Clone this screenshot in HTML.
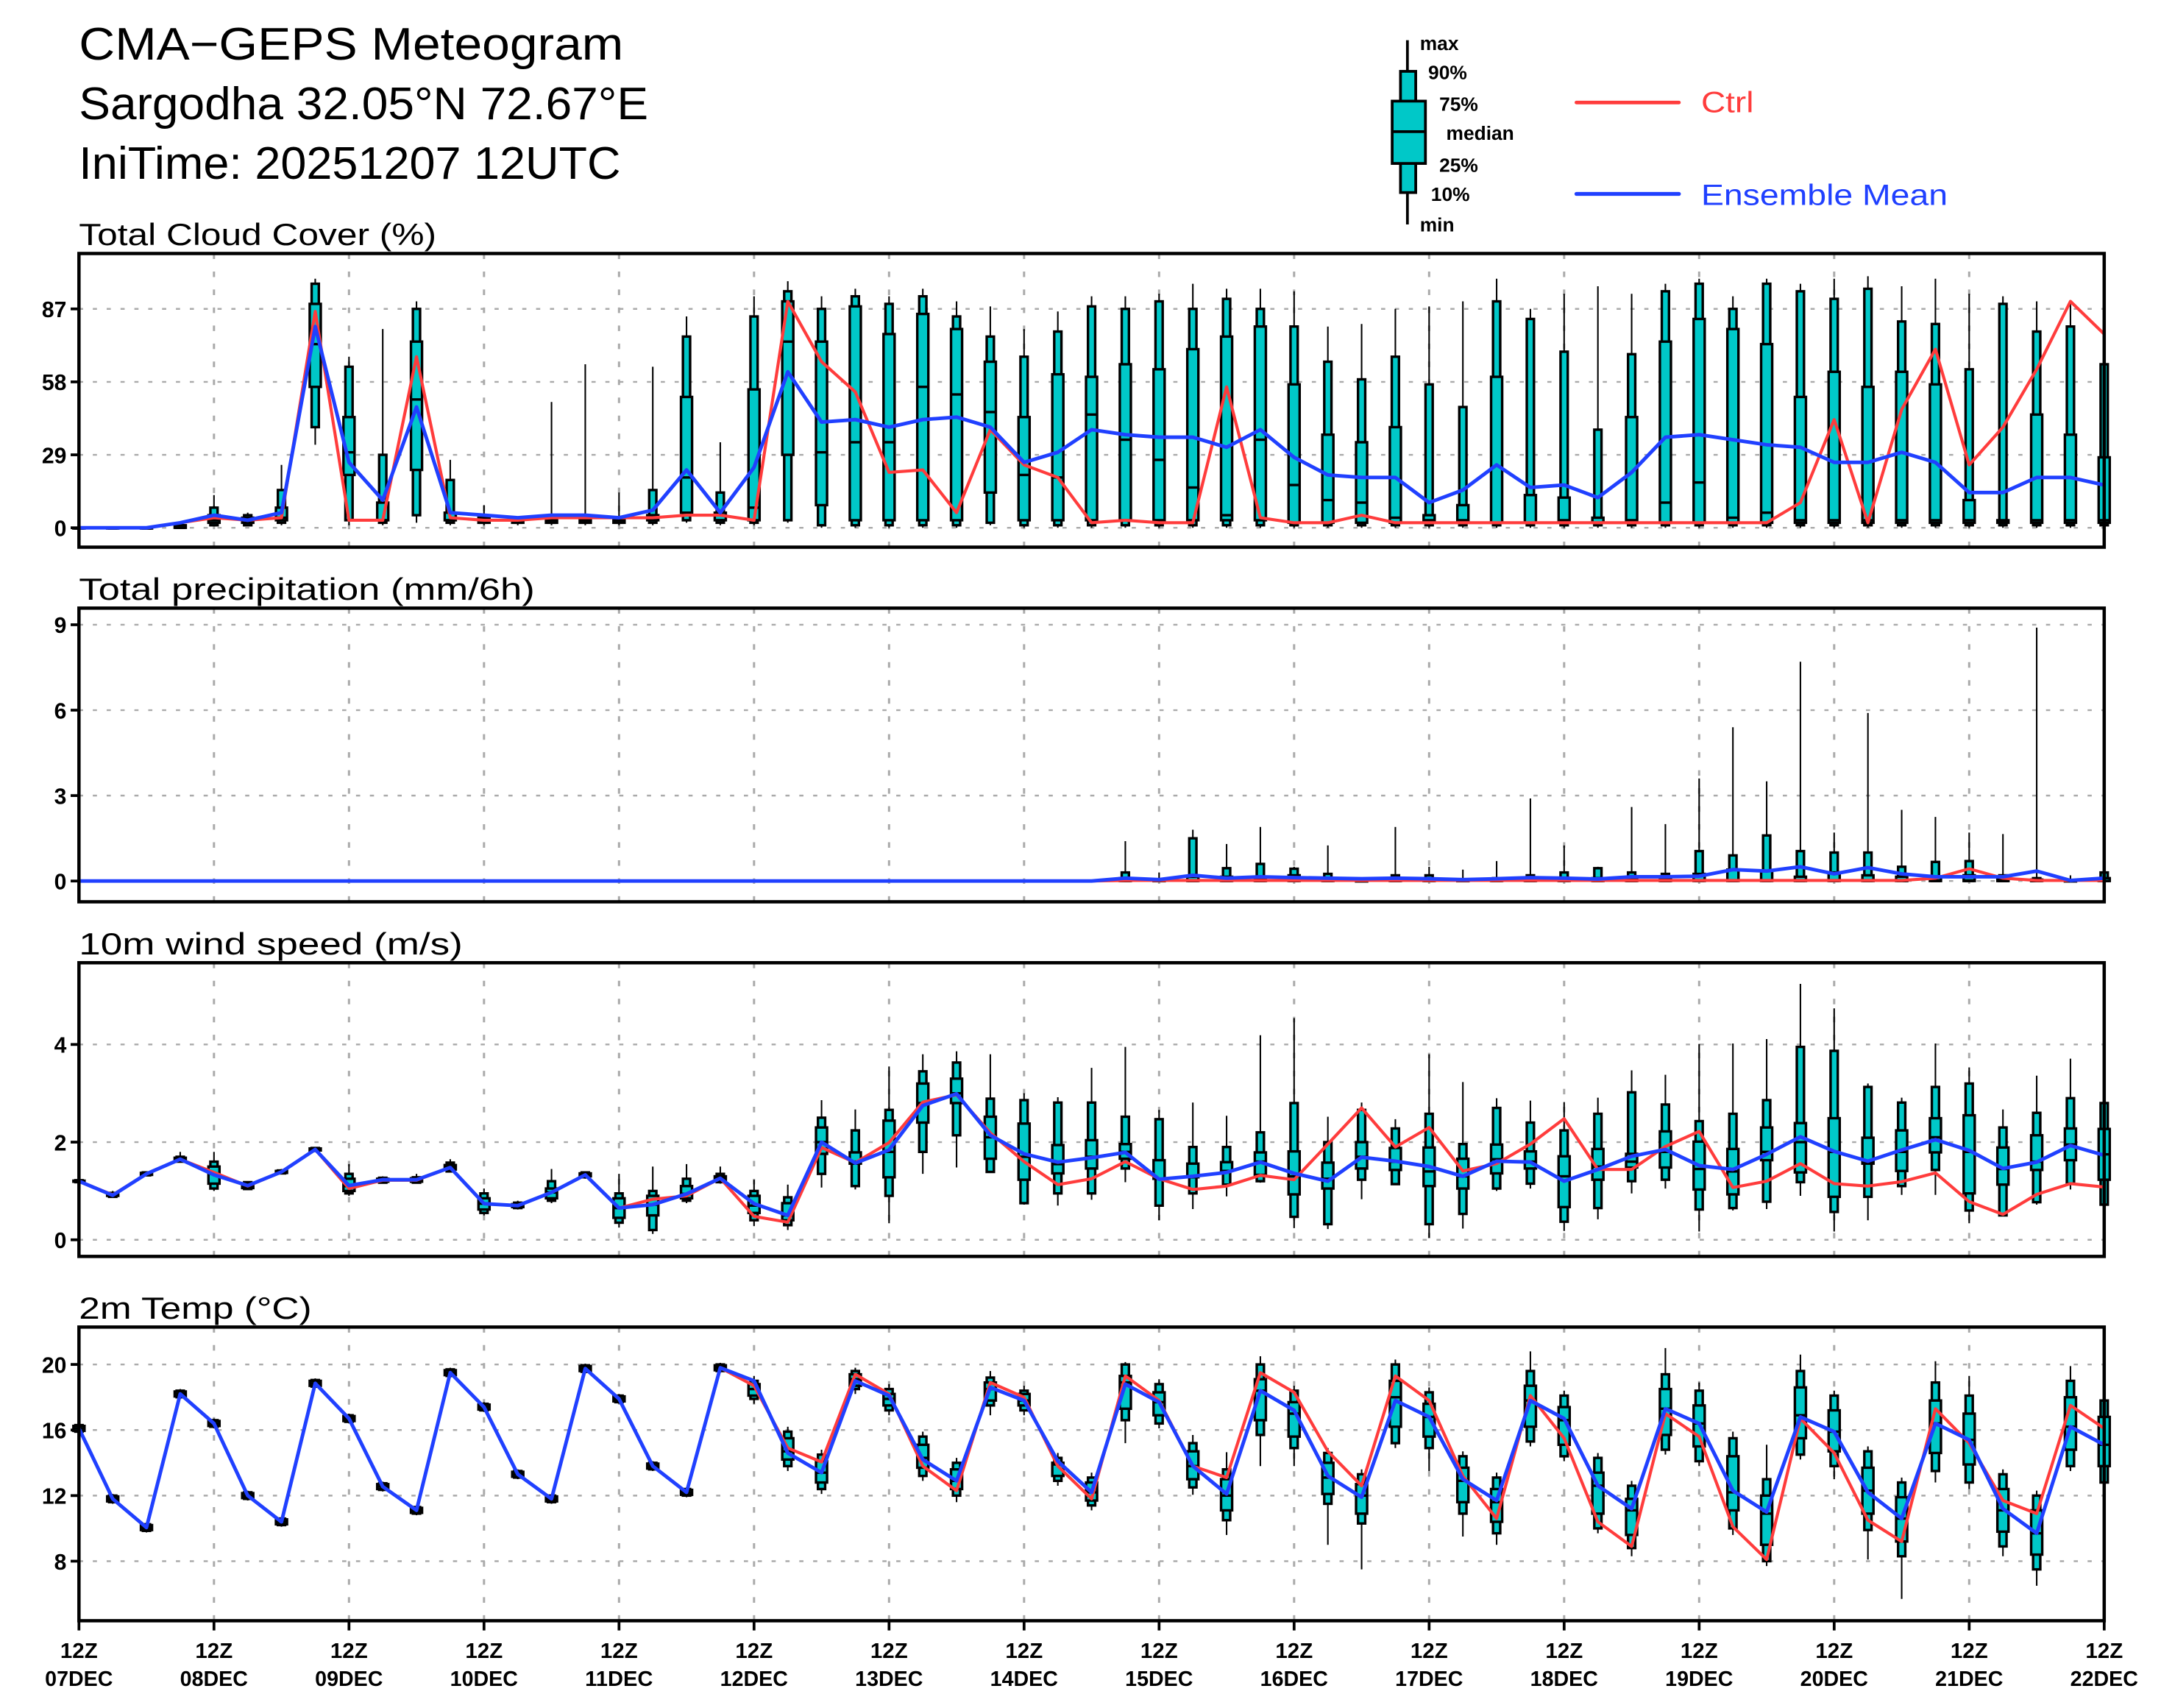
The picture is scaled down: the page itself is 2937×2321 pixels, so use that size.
<!DOCTYPE html>
<html><head><meta charset="utf-8"><title>CMA-GEPS Meteogram</title>
<style>html,body{margin:0;padding:0;background:#fff;}svg{display:block;}</style></head>
<body>
<svg id="chart" xmlns="http://www.w3.org/2000/svg" width="2937" height="2321" viewBox="0 0 1560 1233" preserveAspectRatio="none" font-family="'Liberation Sans', 'DejaVu Sans', sans-serif">
<rect x="0" y="0" width="1560" height="1233" fill="#fff"/>
<text x="57" y="43" font-size="33" textLength="393" lengthAdjust="spacingAndGlyphs">CMA−GEPS Meteogram</text>
<text x="57" y="86" font-size="33" textLength="411" lengthAdjust="spacingAndGlyphs">Sargodha 32.05°N 72.67°E</text>
<text x="57" y="129" font-size="33" textLength="391" lengthAdjust="spacingAndGlyphs">IniTime: 20251207 12UTC</text>
<g id="legend">
  <line x1="1016" y1="29" x2="1016" y2="162" stroke="#000" stroke-width="2"/>
  <rect x="1011" y="51.5" width="11" height="87.5" fill="#00c8c8" stroke="#000" stroke-width="2"/>
  <rect x="1005" y="73" width="24" height="45" fill="#00c8c8" stroke="#000" stroke-width="2"/>
  <line x1="1005" y1="95" x2="1029" y2="95" stroke="#000" stroke-width="2"/>
  <g font-size="14" font-weight="bold">
    <text x="1025" y="36">max</text>
    <text x="1031" y="57">90%</text>
    <text x="1039" y="80">75%</text>
    <text x="1044" y="101">median</text>
    <text x="1039" y="124">25%</text>
    <text x="1033" y="145">10%</text>
    <text x="1025" y="167">min</text>
  </g>
  <line x1="1138" y1="74" x2="1212" y2="74" stroke="#ff3c3c" stroke-width="2.6" stroke-linecap="round"/>
  <text x="1228" y="81" font-size="21" fill="#ff3c3c" textLength="38" lengthAdjust="spacingAndGlyphs">Ctrl</text>
  <line x1="1138" y1="140" x2="1212" y2="140" stroke="#2040ff" stroke-width="2.8" stroke-linecap="round"/>
  <text x="1228" y="148" font-size="21" fill="#2040ff" textLength="178" lengthAdjust="spacingAndGlyphs">Ensemble Mean</text>
</g>
</svg>
<script>
// ===== time axis =====
const dayLabels = ["07DEC","08DEC","09DEC","10DEC","11DEC","12DEC","13DEC","14DEC","15DEC","16DEC","17DEC","18DEC","19DEC","20DEC","21DEC","22DEC"];
const hourLabel = "12Z";

// ===== Total cloud cover (%) =====
const cloudTicks = [0,29,58,87];
const cloudCtrl = [0,0,0,2,4,3,4,86,3,3, 68,4,3,3,4,4,4,4,5,5, 3,90,66,54,22,23,6,39,25,20, 2,3,2,2,56,4,2,2,5,2, 2,2,2,2,2,2,2,2,2,2, 2,10,43,2,47,71,25,40,63,90,77];
const cloudMean = [0,0,0,2,5,3,6,80,26,11, 48,6,5,4,5,5,4,7,23,6, 24,62,42,43,40,43,44,40,26,30, 39,37,36,36,32,39,28,21,20,20, 10,15,25,16,17,12,22,36,37,35, 33,32,26,26,30,26,14,14,20,20,17];
const cloudMax = [0,0,0,2,13,6,25,99,68,79, 90,27,9,4,50,65,14,64,84,34, 92,98,92,95,92,95,90,88,79,86, 92,92,93,97,95,95,94,80,81,87, 88,90,99,87,93,96,93,97,99,92, 99,97,99,100,96,99,93,92,90,90,80];
const cloudP90 = [0,0,0,1,8,5,15,97,64,29, 87,19,5,4,4,4,4,15,76,14, 84,94,87,92,89,92,84,76,68,78, 88,87,90,87,91,87,80,66,59,68, 57,48,90,83,70,39,69,94,97,87, 97,94,91,95,82,81,63,89,78,80,65];
const cloudP75 = [0,0,0,1,5,4,8,89,44,10, 74,6,4,3,3,3,3,5,52,6, 55,90,74,88,77,85,79,66,44,61, 60,65,63,71,76,80,57,37,34,40, 5,9,60,13,12,4,44,74,83,79, 73,52,62,56,62,57,11,3,45,37,28];
const cloudMed = [0,0,0,0,3,3,4,73,30,3, 51,3,3,3,3,3,3,3,20,3, 8,74,30,34,34,56,53,46,21,20, 45,35,27,16,5,35,17,11,10,4, 3,3,2,2,3,2,3,10,18,4, 6,3,3,3,3,3,3,2,3,3,3];
const cloudP25 = [0,0,0,0,2,2,3,56,21,3, 23,3,2,2,2,2,2,3,6,3, 3,29,9,3,3,3,3,14,3,3, 3,3,3,3,3,3,2,2,2,2, 2,2,2,2,2,2,2,2,2,2, 2,2,2,2,2,2,2,2,2,2,2];
const cloudP10 = [0,0,0,0,1,1,2,40,3,2, 5,2,2,2,2,2,2,2,3,2, 2,3,1,1,1,1,1,2,1,1, 1,1,1,1,1,1,1,1,1,1, 1,1,1,1,1,1,1,1,1,1, 1,1,1,1,1,1,1,1,1,1,1];
const cloudMin = [0,0,0,0,1,1,1,33,1,1, 2,1,1,1,1,1,1,1,2,1, 1,2,0,0,0,0,0,1,0,0, 0,0,0,0,0,0,0,0,0,0, 0,0,0,0,0,0,0,0,0,0, 0,0,0,0,0,0,0,0,0,0,0];

// ===== Total precipitation (mm/6h) =====
const precipTicks = [0,3,6,9];
const precipCtrl = [0,0,0,0,0,0,0,0,0,0, 0,0,0,0,0,0,0,0,0,0, 0,0,0,0,0,0,0,0,0,0, 0, 0.02,0.02,0.02,0.02,0.02,0.02,0.02,0.02,0.02, 0.02,0.02,0.02,0.02,0.02,0.02,0.02,0.02,0.02,0.02, 0.02,0.02,0.02,0.02,0.02,0.1,0.43,0.1,0.02,0.02,0.02];
const precipMean = [0,0,0,0,0,0,0,0,0,0, 0,0,0,0,0,0,0,0,0,0, 0,0,0,0,0,0,0,0,0,0, 0, 0.1,0.05,0.2,0.1,0.15,0.12,0.1,0.08,0.1, 0.08,0.05,0.08,0.12,0.1,0.07,0.15,0.15,0.17,0.4, 0.35,0.5,0.25,0.47,0.25,0.15,0.15,0.15,0.35,0.02,0.1];
const precipMax = [0,0,0,0,0,0,0,0,0,0, 0,0,0,0,0,0,0,0,0,0, 0,0,0,0,0,0,0,0,0,0, 0, 1.4,0.3,1.8,1.3,1.9,0.5,1.25,0.1,1.9, 0.5,0.4,0.7,2.9,1.25,0.5,2.6,2.0,3.6,5.4, 3.5,7.7,1.7,5.9,2.5,2.25,1.7,1.65,8.9,0.2,0.35];
const precipP90 = [0,0,0,0,0,0,0,0,0,0, 0,0,0,0,0,0,0,0,0,0, 0,0,0,0,0,0,0,0,0,0, 0, 0.3,0.05,1.5,0.45,0.6,0.43,0.25,0.02,0.2, 0.2,0.05,0.1,0.2,0.3,0.45,0.3,0.25,1.05,0.9, 1.6,1.05,1.0,1.0,0.5,0.67,0.7,0.2,0.1,0.02,0.3];
const precipP75 = [0,0,0,0,0,0,0,0,0,0, 0,0,0,0,0,0,0,0,0,0, 0,0,0,0,0,0,0,0,0,0, 0, 0.1,0.02,0.15,0.15,0.1,0.2,0.05,0.01,0.05, 0.05,0.02,0.05,0.05,0.1,0.1,0.1,0.1,0.25,0.4, 0.35,0.15,0.3,0.2,0.15,0.15,0.2,0.05,0.05,0.01,0.1];
const precipMed = [0,0,0,0,0,0,0,0,0,0, 0,0,0,0,0,0,0,0,0,0, 0,0,0,0,0,0,0,0,0,0, 0, 0,0,0,0,0,0,0,0,0, 0,0,0,0,0,0,0,0,0.02,0.02, 0.02,0.02,0.02,0.02,0.02,0.02,0.02,0,0,0,0];
const precipP25 = [0,0,0,0,0,0,0,0,0,0, 0,0,0,0,0,0,0,0,0,0, 0,0,0,0,0,0,0,0,0,0, 0, 0,0,0,0,0,0,0,0,0, 0,0,0,0,0,0,0,0,0,0, 0,0,0,0,0,0,0,0,0,0,0];
const precipP10 = [0,0,0,0,0,0,0,0,0,0, 0,0,0,0,0,0,0,0,0,0, 0,0,0,0,0,0,0,0,0,0, 0, 0,0,0,0,0,0,0,0,0, 0,0,0,0,0,0,0,0,0,0, 0,0,0,0,0,0,0,0,0,0,0];
const precipMin = [0,0,0,0,0,0,0,0,0,0, 0,0,0,0,0,0,0,0,0,0, 0,0,0,0,0,0,0,0,0,0, 0, 0,0,0,0,0,0,0,0,0, 0,0,0,0,0,0,0,0,0,0, 0,0,0,0,0,0,0,0,0,0,0];

// ===== 10m wind speed (m/s) =====
const windTicks = [0,2,4];
const windCtrl = [1.2,0.92,1.35,1.65,1.38,1.1,1.39,1.85,1.05,1.22, 1.22,1.48,0.74,0.7,0.97,1.33,0.65,0.83,0.9,1.26, 0.48,0.36,1.89,1.58,1.99,2.82,2.97,2.19,1.6,1.13, 1.25,1.6,1.25,1.03,1.1,1.32,1.23,1.96,2.7,1.9, 2.3,1.41,1.56,1.96,2.48,1.44,1.44,1.91,2.22,1.07, 1.2,1.56,1.15,1.1,1.19,1.37,0.78,0.52,0.93,1.15,1.08];
const windMean = [1.2,0.91,1.35,1.65,1.33,1.11,1.39,1.85,1.11,1.23, 1.23,1.48,0.74,0.7,0.97,1.33,0.65,0.72,0.94,1.26, 0.74,0.5,2.0,1.57,1.84,2.75,2.99,2.14,1.76,1.59, 1.68,1.79,1.24,1.3,1.38,1.59,1.36,1.2,1.69,1.61, 1.5,1.3,1.61,1.59,1.2,1.44,1.71,1.85,1.52,1.44, 1.75,2.11,1.81,1.61,1.84,2.05,1.83,1.46,1.59,1.93,1.73];
const windMax = [1.25,1.0,1.4,1.8,1.8,1.2,1.45,1.9,1.55,1.3, 1.35,1.65,1.05,0.8,1.45,1.4,1.35,1.5,1.55,1.5, 1.23,1.13,2.86,2.67,3.55,3.8,3.86,3.8,3.0,2.92, 3.52,3.95,2.66,2.81,2.54,4.19,4.54,2.52,2.81,2.47, 3.8,3.23,2.9,2.85,2.82,2.91,3.47,3.38,4.01,4.02, 4.11,5.24,4.74,3.2,2.91,4.02,3.53,2.67,3.36,3.71,2.9];
const windP90 = [1.22,0.96,1.38,1.7,1.6,1.18,1.42,1.88,1.35,1.27, 1.28,1.58,0.95,0.76,1.2,1.38,0.95,1.0,1.25,1.35, 1.0,0.87,2.5,2.24,2.66,3.45,3.63,2.89,2.86,2.81, 2.81,2.52,2.47,1.9,1.9,2.2,2.8,2.0,2.66,2.28, 2.58,1.96,2.7,2.4,2.24,2.58,3.02,2.77,2.43,2.58, 2.86,3.95,3.87,3.13,2.81,3.13,3.2,2.3,2.6,2.9,2.8];
const windP75 = [1.21,0.94,1.37,1.68,1.5,1.15,1.41,1.87,1.25,1.25, 1.26,1.53,0.85,0.73,1.05,1.36,0.85,0.9,1.1,1.3, 0.9,0.75,2.3,1.79,2.44,3.2,3.3,2.52,2.38,1.94, 2.04,1.96,1.63,1.56,1.59,1.79,1.81,1.58,2.0,1.88, 1.89,1.66,1.95,1.81,1.71,1.86,1.76,2.22,2.01,1.86, 2.3,2.39,2.49,2.09,2.24,2.49,2.55,1.89,2.14,2.28,2.27];
const windMed = [1.2,0.92,1.35,1.65,1.35,1.1,1.39,1.85,1.1,1.22, 1.22,1.48,0.74,0.7,0.97,1.33,0.65,0.72,0.94,1.26, 0.7,0.5,2.0,1.6,1.8,2.8,3.0,2.1,1.7,1.55, 1.7,1.8,1.25,1.3,1.4,1.6,1.3,1.25,1.7,1.6, 1.4,1.3,1.65,1.6,1.3,1.5,1.6,1.8,1.45,1.4, 1.8,2.0,1.8,1.6,1.8,2.1,1.8,1.45,1.6,1.95,1.75];
const windP25 = [1.19,0.9,1.33,1.62,1.15,1.06,1.37,1.83,1.0,1.19, 1.19,1.44,0.62,0.67,0.85,1.3,0.45,0.5,0.85,1.22, 0.55,0.4,1.76,1.56,1.28,2.4,2.8,1.66,1.23,1.36, 1.46,1.66,1.25,1.28,1.41,1.33,0.93,1.05,1.46,1.43, 1.1,1.05,1.36,1.46,0.67,1.23,1.48,1.48,1.03,0.93, 1.63,1.38,0.88,1.56,1.41,1.79,0.95,1.13,1.43,1.63,1.23];
const windP10 = [1.18,0.88,1.32,1.6,1.05,1.04,1.36,1.82,0.95,1.17, 1.17,1.4,0.55,0.65,0.8,1.28,0.35,0.2,0.8,1.18, 0.4,0.3,1.35,1.1,0.9,1.8,2.14,1.39,0.75,0.95, 0.95,1.46,0.7,0.95,1.13,1.2,0.47,0.32,1.23,1.14, 0.32,0.53,1.05,1.15,0.37,0.65,1.2,1.23,0.62,0.65, 0.78,1.18,0.57,0.88,1.1,1.43,0.6,0.5,0.77,1.15,0.72];
const windMin = [1.17,0.87,1.3,1.58,1.0,1.02,1.35,1.8,0.9,1.15, 1.15,1.38,0.5,0.62,0.75,1.25,0.25,0.12,0.75,1.15, 0.28,0.2,1.07,1.03,0.34,1.35,1.48,1.37,0.72,0.7, 0.82,1.18,0.4,0.63,0.89,1.17,0.24,0.22,0.83,1.12, 0.04,0.23,1.0,1.05,0.18,0.42,0.95,1.05,0.17,0.6, 0.63,0.9,0.17,0.4,0.92,0.92,0.34,0.48,0.72,1.03,0.7];

// ===== 2m temperature (°C) =====
const tempTicks = [8,12,16,20];
const tempCtrl = [16.1,11.8,10.05,18.2,16.4,12.0,10.4,18.85,16.7,12.55, 11.1,19.5,17.4,13.3,11.8,19.75,17.9,13.8,12.2,19.8, 18.7,14.9,14.05,19.4,18.2,13.8,12.3,18.9,18.0,13.8, 11.8,19.3,17.8,13.8,13.1,19.5,18.3,14.7,12.6,19.3, 17.8,13.2,10.6,18.1,15.5,10.4,8.9,17.0,15.6,10.1, 8.1,16.7,14.6,10.5,9.2,17.3,15.2,11.7,10.9,17.5,16.1];
const tempMean = [16.1,11.8,10.05,18.2,16.4,12.0,10.4,18.85,16.7,12.55, 11.1,19.5,17.4,13.3,11.8,19.75,17.9,13.8,12.2,19.8, 19.0,14.6,13.4,19.0,18.1,14.2,12.9,18.6,17.8,14.1, 12.2,18.8,17.7,13.8,12.1,18.4,17.2,13.2,11.9,17.8, 16.8,13.0,11.7,17.8,16.7,12.6,11.2,17.3,16.4,12.3, 11.0,16.8,15.9,12.2,10.6,16.4,15.4,11.2,9.7,16.2,15.1];
const tempMax = [16.4,12.1,10.35,18.5,16.7,12.3,10.7,19.15,17.0,12.85, 11.4,19.8,17.7,13.6,12.1,20.05,18.2,14.1,12.5,20.1, 19.3,16.2,14.8,19.8,18.8,15.9,14.3,19.6,18.7,14.6, 13.4,20.15,19.1,15.7,14.65,20.5,18.7,14.9,13.6,20.3, 18.6,14.7,13.4,20.8,18.4,14.6,12.9,21.0,18.9,15.9, 15.1,20.6,18.4,15.0,13.1,20.2,19.3,13.6,12.3,19.9,18.1];
const tempP90 = [16.3,12.0,10.25,18.4,16.6,12.2,10.6,19.05,16.9,12.75, 11.3,19.7,17.6,13.5,12.0,19.95,18.1,14.0,12.4,20.0, 19.0,15.9,14.5,19.6,18.5,15.6,14.0,19.2,18.4,14.3, 13.1,20.0,18.8,15.2,13.6,20.0,18.4,14.6,13.3,20.0, 18.3,14.4,13.1,19.6,18.1,14.3,12.6,19.4,18.4,15.5, 13.0,19.6,18.1,14.7,12.8,18.9,18.1,13.3,12.0,19.0,17.8];
const tempP75 = [16.25,11.95,10.2,18.35,16.55,12.15,10.55,19.0,16.85,12.7, 11.25,19.65,17.55,13.45,11.95,19.9,18.05,13.95,12.35,19.95, 18.8,15.5,14.1,19.4,18.2,15.1,13.6,18.9,18.2,14.0, 12.8,19.3,18.3,14.7,13.0,19.1,17.7,14.0,12.7,19.0, 17.6,13.7,12.4,18.7,17.4,13.4,11.8,18.5,17.5,14.4, 12.0,18.6,17.2,13.7,11.9,17.8,17.0,12.4,11.1,18.0,16.8];
const tempMed = [16.1,11.8,10.05,18.2,16.4,12.0,10.4,18.85,16.7,12.55, 11.1,19.5,17.4,13.3,11.8,19.75,17.9,13.8,12.2,19.8, 18.5,14.7,13.4,19.1,17.9,14.3,12.9,18.5,17.8,13.9, 12.2,18.9,17.7,13.8,12.0,18.4,17.0,13.1,12.0,18.0, 16.8,12.9,11.6,17.8,16.6,12.6,11.1,17.3,16.4,12.2, 10.9,16.9,15.9,12.3,10.6,16.4,15.4,11.1,9.7,16.2,15.1];
const tempP25 = [15.95,11.65,9.9,18.05,16.25,11.85,10.25,18.7,16.55,12.4, 10.95,19.35,17.25,13.15,11.65,19.6,17.75,13.65,12.05,19.65, 18.1,14.2,12.8,18.7,17.5,13.7,12.4,17.8,17.5,13.2, 11.7,17.3,16.9,13.0,11.1,16.6,15.6,12.1,10.9,16.2, 15.6,11.6,10.4,16.2,15.1,10.9,9.6,15.7,15.0,11.1, 9.0,15.5,14.7,10.9,9.2,14.6,13.9,9.8,8.4,14.8,13.8];
const tempP10 = [15.9,11.6,9.85,18.0,16.2,11.8,10.2,18.65,16.5,12.35, 10.9,19.3,17.2,13.1,11.6,19.55,17.7,13.6,12.0,19.6, 17.9,13.8,12.4,18.5,17.2,13.2,12.0,17.5,17.2,12.9, 11.4,16.6,16.4,12.5,10.5,15.7,14.9,11.5,10.3,15.2, 14.9,10.9,9.7,15.3,14.4,10.0,8.8,14.8,14.1,10.0, 8.0,14.5,13.8,9.9,8.3,13.5,12.8,8.9,7.5,13.8,12.8];
const tempMin = [15.8,11.5,9.75,17.9,16.1,11.7,10.1,18.55,16.4,12.25, 10.8,19.2,17.1,13.0,11.5,19.45,17.6,13.5,11.9,19.5, 17.6,13.5,12.1,18.2,16.9,12.9,11.6,16.9,16.9,12.6, 11.1,15.2,16.1,12.05,9.6,13.8,13.8,9.0,7.5,14.9, 13.5,9.5,9.0,15.0,14.1,9.7,8.3,14.5,13.8,9.6, 7.7,14.2,13.0,8.1,5.7,12.8,12.4,8.3,6.5,13.5,12.5];

// ===== layout =====
const NS = "http://www.w3.org/2000/svg";
const svg = document.getElementById("chart");
const X0 = 57, X1 = 1519, NSTEP = 60;
function xScale(t){ return X0 + (X1 - X0) * t / NSTEP; }
function mk(tag, attrs, parent){
  const e = document.createElementNS(NS, tag);
  for (const k in attrs) e.setAttribute(k, attrs[k]);
  (parent || svg).appendChild(e);
  return e;
}
function linScale(v0, y0, v1, y1){ return v => y0 + (v - v0) * (y1 - y0) / (v1 - v0); }

const panels = [
  { key:"cloud", title:"Total Cloud Cover (%)", titleW:258, top:183, bottom:395, y:linScale(0,381,87,223), ticks:cloudTicks,
    ctrl:cloudCtrl, mean:cloudMean, mn:cloudMin, p10:cloudP10, p25:cloudP25, med:cloudMed, p75:cloudP75, p90:cloudP90, mx:cloudMax, skip:-1 },
  { key:"precip", title:"Total precipitation (mm/6h)", titleW:329, top:439, bottom:651, y:linScale(0,636,9,451), ticks:precipTicks,
    ctrl:precipCtrl, mean:precipMean, mn:precipMin, p10:precipP10, p25:precipP25, med:precipMed, p75:precipP75, p90:precipP90, mx:precipMax, skip:0.01 },
  { key:"wind", title:"10m wind speed (m/s)", titleW:277, top:695, bottom:907, y:linScale(0,895,4,754), ticks:windTicks,
    ctrl:windCtrl, mean:windMean, mn:windMin, p10:windP10, p25:windP25, med:windMed, p75:windP75, p90:windP90, mx:windMax, skip:-1 },
  { key:"temp", title:"2m Temp (°C)", titleW:168, top:958, bottom:1170, y:linScale(8,1127,20,985), ticks:tempTicks,
    ctrl:tempCtrl, mean:tempMean, mn:tempMin, p10:tempP10, p25:tempP25, med:tempMed, p75:tempP75, p90:tempP90, mx:tempMax, skip:-1 }
];

panels.forEach(p => {
  const g = mk("g", {});
  
  

  const title = mk("text", {x:X0, y:p.top - 6, "font-size":22, textLength:p.titleW, lengthAdjust:"spacingAndGlyphs"}, g);
  title.textContent = p.title;
  
  

  // horizontal grid + y ticks
  p.ticks.forEach(v => {
    const yy = p.y(v);
    const gl = mk("line", {x1:X0, x2:X1, y1:yy, y2:yy, stroke:"#aaa", "stroke-width":1.3, "stroke-dasharray":"3 7"}, g);
    
    
    const tk = mk("line", {x1:X0 - 6, x2:X0, y1:yy, y2:yy, stroke:"#000", "stroke-width":2}, g);
    
    
    const lb = mk("text", {x:X0 - 9, y:yy + 6, "font-size":16, "font-weight":"bold", "text-anchor":"end"}, g);
    lb.textContent = String(v);
    
    
  });
  // vertical day grid
  for (let d = 1; d < dayLabels.length - 1; d++) {
    const xx = xScale(d * 4);
    const vl = mk("line", {x1:xx, x2:xx, y1:p.top, y2:p.bottom, stroke:"#aaa", "stroke-width":1.6, "stroke-dasharray":"4 9"}, g);
    
    
  }

  // boxes
  for (let t = 0; t <= NSTEP; t++) {
    if (p.mx[t] === undefined || p.mx[t] <= p.skip) continue;
    const xx = xScale(t);
    const bg = mk("g", {}, g);
    
    
    mk("line", {x1:xx, x2:xx, y1:p.y(p.mn[t]), y2:p.y(p.mx[t]), stroke:"#000", "stroke-width":1.1}, bg);
    const y90 = p.y(p.p90[t]), y10 = p.y(p.p10[t]);
    mk("rect", {x:xx - 2.6, y:y90, width:5.2, height:Math.max(0.5, y10 - y90), fill:"#00c8c8", stroke:"#000", "stroke-width":1.8}, bg);
    const y75 = p.y(p.p75[t]), y25 = p.y(p.p25[t]);
    mk("rect", {x:xx - 4, y:y75, width:8, height:Math.max(0.5, y25 - y75), fill:"#00c8c8", stroke:"#000", "stroke-width":1.8}, bg);
    const ym = p.y(p.med[t]);
    mk("line", {x1:xx - 4, x2:xx + 4, y1:ym, y2:ym, stroke:"#000", "stroke-width":1.8}, bg);
  }

  // ctrl & mean lines
  const ptsC = p.ctrl.map((v, t) => xScale(t).toFixed(2) + "," + p.y(v).toFixed(2)).join(" ");
  const lc = mk("polyline", {points:ptsC, fill:"none", stroke:"#ff3c3c", "stroke-width":2.2, "stroke-linejoin":"round"}, g);
  
  
  const ptsM = p.mean.map((v, t) => xScale(t).toFixed(2) + "," + p.y(v).toFixed(2)).join(" ");
  const lm = mk("polyline", {points:ptsM, fill:"none", stroke:"#2040ff", "stroke-width":2.6, "stroke-linejoin":"round"}, g);
  
  

  // frame
  const fr = mk("rect", {x:X0, y:p.top, width:X1 - X0, height:p.bottom - p.top, fill:"none", stroke:"#000", "stroke-width":2.4}, g);
  
  
});

// x axis labels (bottom)
const xg = mk("g", {});


dayLabels.forEach((lab, d) => {
  const xx = xScale(d * 4);
  const tk = mk("line", {x1:xx, x2:xx, y1:1170, y2:1177, stroke:"#000", "stroke-width":2}, xg);
  
  
  const t1 = mk("text", {x:xx, y:1197, "font-size":15, "font-weight":"bold", "text-anchor":"middle", textLength:27, lengthAdjust:"spacingAndGlyphs"}, xg);
  t1.textContent = hourLabel;
  
  
  const t2 = mk("text", {x:xx, y:1217, "font-size":15, "font-weight":"bold", "text-anchor":"middle", textLength:49, lengthAdjust:"spacingAndGlyphs"}, xg);
  t2.textContent = lab;
  
  
});
</script>
</body></html>
